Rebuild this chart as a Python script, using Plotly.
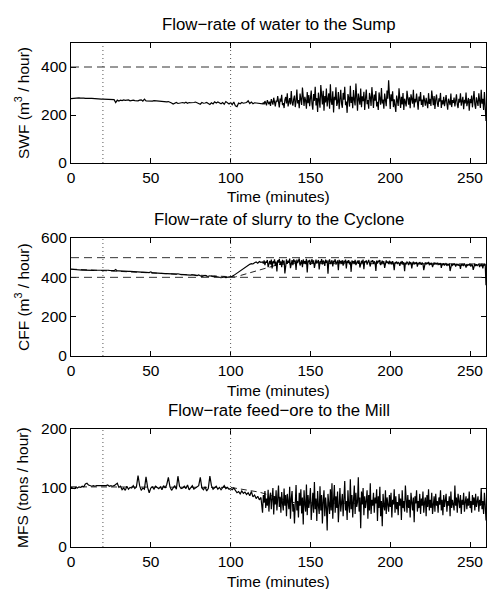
import plotly.graph_objects as go

# ---------------- data ----------------
# 1-minute samples 0..119, then 0.5-minute samples 120..260
time_early = list(range(0, 120))
time_late = [120 + 0.5 * k for k in range(281)]
time_min = time_early + time_late

swf_early = [
    268,269,269,270,270,271,270,271,270,269,
    270,270,269,269,268,268,268,267,267,266,
    266,266,265,266,265,266,265,264,252,262,
    258,262,260,263,261,262,263,259,261,262,
    260,258,259,262,263,258,266,259,258,260,
    259,258,260,259,258,257,259,258,257,256,
    255,256,254,250,246,249,252,248,250,251,
    252,250,253,249,252,251,250,252,254,251,
    247,245,252,249,250,252,248,244,251,246,
    255,250,254,252,247,252,245,256,250,246,
    252,243,254,238,235,250,247,252,249,251,
    252,259,248,254,247,251,250,249,247,244,
]
swf_late = [
    246,252,244,258,249,240,262,251,245,256,
    238,266,250,243,272,247,236,260,254,279,
    245,232,268,256,284,241,250,229,263,275,
    248,290,236,258,270,244,300,252,239,266,
    281,233,257,306,248,262,228,289,271,242,
    314,255,238,276,260,226,296,249,283,237,
    268,302,245,222,287,259,318,240,271,213,
    293,256,230,325,262,244,301,218,279,252,
    310,236,268,290,226,328,257,242,299,211,
    276,262,315,238,251,296,224,283,305,247,
    230,292,264,318,241,256,209,287,271,235,
    322,250,276,228,304,262,240,331,255,218,
    289,266,243,310,232,278,258,297,221,269,
    306,245,262,226,292,274,238,316,251,229,
    285,260,300,236,255,221,294,270,243,312,
    248,264,226,289,257,237,302,268,345,240,
    225,286,258,299,233,265,247,213,281,260,
    238,311,252,229,276,244,292,221,268,255,
    236,301,259,243,274,228,286,262,247,305,
    231,268,253,289,240,222,277,258,296,242,
    264,233,282,251,239,272,257,228,291,246,
    267,238,302,252,241,279,225,264,285,248,
    234,270,256,292,229,261,244,276,237,258,
    283,247,222,268,255,241,289,233,262,250,
    273,236,260,286,244,229,267,252,290,239,
    258,276,224,263,248,294,237,255,271,218,
    266,249,281,232,259,300,243,226,274,253,
    238,290,262,229,305,247,268,221,296,240,
    175,
]

cff_early = [
    441,440,440,439,439,438,438,437,437,436,
    436,436,435,435,435,436,436,437,438,439,
    439,438,437,436,435,435,434,434,440,433,
    433,432,432,431,431,430,430,430,429,429,
    428,428,427,427,426,426,425,425,424,424,
    428,423,423,422,422,421,421,420,420,419,
    419,418,418,417,417,416,416,418,415,414,
    414,413,413,412,412,411,413,410,410,409,
    412,408,404,407,410,406,405,408,404,403,
    405,402,401,400,399,400,402,399,401,403,
    402,405,410,416,422,428,434,440,446,452,
    458,462,466,470,468,474,478,472,480,476,
]
cff_late = [
    478,470,486,462,480,474,488,452,476,484,
    466,490,445,482,471,492,458,480,430,487,
    475,494,463,481,452,489,470,485,420,478,
    491,468,484,474,495,447,480,488,462,492,
    476,485,438,490,472,483,496,460,479,487,
    452,491,474,482,468,494,425,485,477,489,
    463,480,492,471,486,448,483,490,470,478,
    488,440,481,475,493,466,485,479,458,490,
    473,486,419,482,491,468,478,487,455,484,
    476,492,465,480,486,436,489,474,483,470,
    487,459,481,478,490,445,484,472,488,466,
    479,428,486,475,482,470,489,462,480,485,
    468,487,450,478,484,474,490,441,482,476,
    486,465,480,489,472,455,484,478,487,469,
    481,476,432,485,470,483,479,488,462,477,
    485,470,482,448,479,486,473,480,467,484,
    474,479,466,482,471,436,477,473,480,468,
    476,472,458,479,470,483,465,477,431,474,
    469,478,473,462,480,471,476,445,472,479,
    466,474,470,478,454,473,468,477,471,464,
    475,469,437,472,476,466,473,470,478,462,
    471,467,474,452,470,476,465,472,468,474,
    463,470,466,473,448,469,464,471,460,468,
    472,458,467,463,470,432,466,469,461,467,
    464,470,455,466,462,468,459,465,443,467,
    461,466,458,469,463,450,467,460,465,462,
    468,455,466,461,438,464,469,457,466,460,
    463,467,452,465,460,469,445,466,462,468,
    360,
]

mfs_early = [
    101,100,99,101,100,102,101,103,102,107,
    108,105,104,103,104,103,104,104,103,104,
    104,103,104,105,103,104,103,104,106,108,
    101,103,97,100,96,103,98,101,100,104,
    99,102,121,104,96,100,98,119,101,92,
    100,102,98,103,101,99,102,97,104,100,
    106,118,102,96,100,104,98,120,103,99,
    100,103,99,105,97,101,104,98,100,102,
    104,118,100,97,102,95,99,120,104,98,
    100,103,98,101,97,100,104,99,101,98,
    99,97,100,96,92,94,90,95,91,93,
    89,92,87,94,85,88,82,86,80,84,
]
mfs_late = [
    58,88,75,95,66,82,70,97,60,84,
    92,64,78,100,55,86,72,96,62,80,
    104,68,85,58,93,74,62,99,70,88,
    52,90,76,64,102,48,82,95,60,73,
    40,86,105,62,78,50,92,70,98,57,
    84,38,96,72,60,106,54,88,66,79,
    100,46,74,92,58,110,64,82,44,95,
    70,56,103,62,88,40,78,96,52,84,
    68,28,90,74,56,98,62,108,48,80,
    105,58,86,66,94,42,76,100,60,72,
    90,52,84,112,62,78,46,96,70,58,
    115,64,88,50,80,104,56,92,68,76,
    118,60,84,32,94,72,100,54,86,66,
    78,96,48,88,62,108,56,80,70,92,
    58,84,74,98,44,86,66,102,52,78,
    35,90,70,62,96,56,84,74,60,88,
    68,92,50,80,72,98,58,86,64,76,
    54,90,70,82,46,96,66,78,60,104,
    72,58,88,66,80,50,92,70,62,84,
    42,86,74,96,60,78,66,90,56,82,
    70,94,58,76,84,52,88,68,98,62,
    80,66,92,56,74,86,60,90,70,78,
    58,84,72,96,62,80,54,88,68,76,
    90,60,78,70,86,52,94,66,80,72,
    62,104,70,84,58,90,74,66,88,56,
    80,72,92,60,76,86,64,82,70,94,
    66,78,58,88,72,84,62,90,68,76,
    86,60,80,70,100,64,78,56,92,72,
    45,
]

swf = swf_early + swf_late
cff = cff_early + cff_late
mfs = mfs_early + mfs_late

# set-point (reference) trajectories
cff_ref_t = [0, 100, 103, 130, 140, 260]
cff_ref_v = [442, 401, 402, 465, 470, 468]
mfs_ref_t = [0, 100, 118, 140, 260]
mfs_ref_v = [102, 101, 93, 75, 72]

swf_limits = [400]
cff_limits = [400, 500]
event_times = [20, 100]

titles = ["Flow\u2212rate of water to the Sump",
          "Flow\u2212rate of slurry to the Cyclone",
          "Flow\u2212rate feed\u2212ore to the Mill"]
ylabels = ["SWF (m<sup>3</sup> / hour)",
           "CFF (m<sup>3</sup> / hour)",
           "MFS (tons / hour)"]
xlabel = "Time (minutes)"
x_ticks = [0, 50, 100, 150, 200, 250]
y_ranges = [[0, 500], [0, 600], [0, 200]]
y_ticks = [[0, 200, 400], [0, 200, 400, 600], [0, 100, 200]]

# ---------------- layout geometry ----------------
W, H = 487, 589
ML, MR = 71, 1
plot_w = W - ML - MR
boxes = [(43, 163), (238, 356), (429, 547)]   # top, bottom in px
FONT = "Liberation Sans, Arial, Helvetica, sans-serif"
TICK_FS = 15.5
LAB_FS = 15.5
TITLE_FS = 16.8

fig = go.Figure()

axes_suffix = ["", "2", "3"]
refs = [None, (cff_ref_t, cff_ref_v), (mfs_ref_t, mfs_ref_v)]
series = [swf, cff, mfs]
for i, s in enumerate(series):
    ax = axes_suffix[i]
    if refs[i] is not None:
        fig.add_trace(go.Scatter(x=refs[i][0], y=refs[i][1], mode="lines",
                                 line=dict(color="#222", width=1, dash="6px,4px"),
                                 xaxis="x" + ax, yaxis="y" + ax,
                                 showlegend=False, hoverinfo="skip"))
    fig.add_trace(go.Scatter(x=time_min, y=s, mode="lines",
                             line=dict(color="black", width=1.2),
                             xaxis="x" + ax, yaxis="y" + ax,
                             showlegend=False, hoverinfo="skip"))

shapes = []
annotations = []
limits = [swf_limits, cff_limits, []]
for i in range(3):
    ax = axes_suffix[i]
    top, bot = boxes[i]
    d0 = 1 - bot / H
    d1 = 1 - top / H
    axis_common = dict(showline=True, linecolor="black", linewidth=1,
                       mirror="ticks", ticks="inside", ticklen=5,
                       tickcolor="black", showgrid=False, zeroline=False,
                       automargin=False,
                       tickfont=dict(family=FONT, size=TICK_FS, color="black"))
    fig.update_layout(**{
        "xaxis" + ax: dict(domain=[0, 1], range=[0, 260], tickvals=x_ticks,
                           anchor="y" + ax, **axis_common),
        "yaxis" + ax: dict(domain=[d0, d1], range=y_ranges[i],
                           tickvals=y_ticks[i], anchor="x" + ax,
                           **axis_common),
    })
    for tv in event_times:
        shapes.append(dict(type="line", xref="x" + ax, yref="y" + ax + " domain",
                           x0=tv, x1=tv, y0=0, y1=1,
                           line=dict(color="#555", width=1, dash="1px,3px")))
    for lv in limits[i]:
        shapes.append(dict(type="line", xref="x" + ax + " domain", yref="y" + ax,
                           x0=0, x1=1, y0=lv, y1=lv,
                           line=dict(color="#333", width=1, dash="8px,5px")))
    annotations.append(dict(text=titles[i], xref="paper", yref="paper",
                            x=0.5, y=1 - (top - 19) / H, showarrow=False,
                            xanchor="center", yanchor="middle",
                            font=dict(family=FONT, size=TITLE_FS, color="black")))
    annotations.append(dict(text=xlabel, xref="paper", yref="paper",
                            x=0.5, y=1 - (bot + 34) / H, showarrow=False,
                            xanchor="center", yanchor="middle",
                            font=dict(family=FONT, size=LAB_FS, color="black")))
    annotations.append(dict(text=ylabels[i], xref="paper", yref="paper",
                            x=(22 - ML) / plot_w, y=1 - (top + bot) / 2 / H,
                            showarrow=False, textangle=-90,
                            xanchor="center", yanchor="middle",
                            font=dict(family=FONT, size=LAB_FS, color="black")))

fig.update_layout(width=W, height=H,
                  margin=dict(l=ML, r=MR, t=0, b=0, pad=0),
                  paper_bgcolor="white", plot_bgcolor="white",
                  shapes=shapes, annotations=annotations,
                  font=dict(family=FONT, size=LAB_FS, color="black"))

fig.write_html("out.html",
               config={"displayModeBar": False},
               post_script="document.body.style.margin='0';"
                           "document.body.style.overflow='hidden';")
